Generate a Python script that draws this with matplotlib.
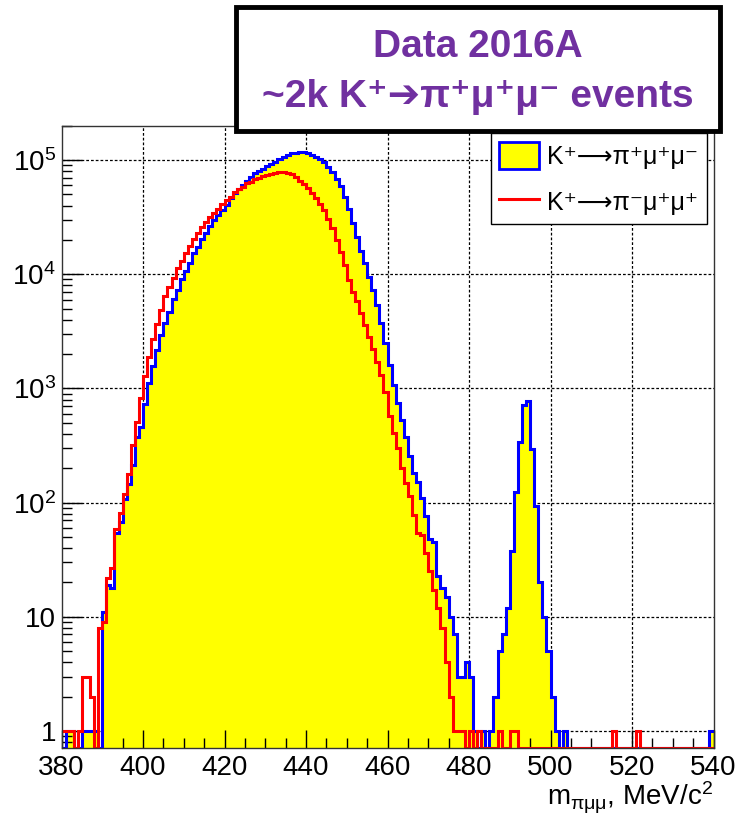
import numpy as np
import matplotlib
matplotlib.use('Agg')
import matplotlib.pyplot as plt
from matplotlib.patches import Rectangle, Patch
from matplotlib.lines import Line2D
from matplotlib.ticker import FixedLocator, MultipleLocator, LogLocator, NullFormatter

plt.rcParams['font.family'] = ['Liberation Sans', 'DejaVu Sans']
plt.rcParams['mathtext.fontset'] = 'custom'
plt.rcParams['mathtext.rm'] = 'Liberation Sans'
plt.rcParams['mathtext.it'] = 'Liberation Sans:italic'
plt.rcParams['mathtext.bf'] = 'Liberation Sans:bold'

# ---------------- data (1 MeV bins from 380 to 540) ----------------
x_low, x_high, bin_width = 380, 540, 1

# K+ -> pi+ mu+ mu-  (filled histogram)
counts_pipmumu = [
    0, 1, 1, 0, 0, 1, 1, 1, 1, 0,                                   # 380-389
    11, 19, 18, 54, 68, 108, 146, 212, 375, 464,                    # 390-399
    733, 1113, 1577, 2176, 2940, 3770, 4650, 6040, 7240, 9040,      # 400-409
    10700, 12560, 15280, 17230, 20250, 22840, 26480, 29870, 33000, 36500,   # 410-419
    40360, 46200, 51100, 55500, 60500, 65900, 71400, 76500, 80000, 84000,   # 420-429
    88000, 92000, 96600, 102000, 107000, 111200, 114500, 115000, 116700, 116700,  # 430-439
    115100, 111300, 106900, 102000, 96100, 87400, 79000, 67700, 59200, 47800,     # 440-449
    37000, 27900, 21300, 16000, 12500, 9400, 7260, 5380, 3720, 2490,  # 450-459
    1600, 1080, 743, 531, 375, 257, 183, 153, 110, 76,               # 460-469
    48, 45, 23, 18, 15, 10, 7, 3, 3, 4,                               # 470-479
    3, 1, 0, 1, 0, 1, 2, 5, 7, 12,                                    # 480-489
    38, 125, 343, 719, 769, 294, 93, 20, 10, 5,                       # 490-499
    2, 1, 0, 1, 0, 0, 0, 0, 0, 0,                                     # 500-509
    0, 0, 0, 0, 0, 0, 0, 0, 0, 0,                                     # 510-519
    0, 0, 0, 0, 0, 0, 0, 0, 0, 0,                                     # 520-529
    0, 0, 0, 0, 0, 0, 0, 0, 0, 1,                                     # 530-539
]

# K+ -> pi- mu+ mu+  (line histogram)
counts_pimmupmup = [
    1, 1, 1, 0, 1, 3, 3, 2, 0, 8,                                     # 380-389
    9, 22, 27, 59, 81, 119, 179, 321, 507, 823,                       # 390-399
    1290, 1900, 2720, 3650, 4870, 6460, 7800, 9340, 11270, 13060,     # 400-409
    15460, 17690, 20250, 22840, 25780, 28860, 31500, 34600, 37000, 40960,   # 410-419
    44700, 47800, 52100, 55500, 58400, 62500, 64600, 67800, 70000, 72500,   # 420-429
    74500, 76000, 77500, 78000, 78000, 77000, 75000, 70500, 65900, 61700,   # 430-439
    56500, 51100, 46200, 41200, 36500, 30300, 25200, 19950, 15800, 12060,   # 440-449
    8910, 7050, 5800, 4600, 3600, 2800, 2200, 1700, 1300, 940,        # 450-459
    568, 411, 300, 201, 149, 115, 78, 54, 52, 36,                     # 460-469
    25, 17, 12, 8, 4, 2, 1, 1, 1, 0,                                  # 470-479
    1, 0, 1, 0, 0, 0, 0, 1, 0, 0,                                     # 480-489
    1, 1, 0, 0, 0, 0, 0, 0, 0, 0,                                     # 490-499
    0, 0, 0, 0, 0, 0, 0, 0, 0, 0,                                     # 500-509
    0, 0, 0, 0, 0, 1, 0, 0, 0, 0,                                     # 510-519
    0, 1, 0, 0, 0, 0, 0, 0, 0, 0,                                     # 520-529
    0, 0, 0, 0, 0, 0, 0, 0, 0, 0,                                     # 530-539
]

label_signal = 'K\u207a\u27f6\u03c0\u207a\u03bc\u207a\u03bc\u207b'
label_lnv = 'K\u207a\u27f6\u03c0\u207b\u03bc\u207a\u03bc\u207a'
title_line1 = 'Data 2016A'
title_line2 = '~2k K\u207a\u2794\u03c0\u207a\u03bc\u207a\u03bc\u207b events'
x_label = r'm$_{\mathrm{\pi\mu\mu}}$, MeV/c$^{2}$'

x_ticks = [380, 400, 420, 440, 460, 480, 500, 520, 540]
y_ticks = [1, 10, 100, 1000, 10000, 100000]
y_ticklabels = ['1', '10', r'$10^{2}$', r'$10^{3}$', r'$10^{4}$', r'$10^{5}$']

y_min, y_max = 0.714, 2.0e5

# ---------------- plotting ----------------
W, H = 740, 817
fig = plt.figure(figsize=(W / 100, H / 100), dpi=100)
ax_l, ax_r, ax_t, ax_b = 61.5, 713.5, 125.7, 747.7
ax = fig.add_axes([ax_l / W, 1 - ax_b / H, (ax_r - ax_l) / W, (ax_b - ax_t) / H])

edges = np.arange(x_low, x_high + bin_width, bin_width)
sig = np.array(counts_pipmumu, dtype=float)
lnv = np.array(counts_pimmupmup, dtype=float)
sig_draw = np.where(sig > 0, sig, y_min)
lnv_draw = np.where(lnv > 0, lnv, y_min)

ax.set_yscale('log')
ax.set_xlim(x_low, x_high)
ax.set_ylim(y_min, y_max)

# grid (below the histograms)
grid_style = dict(color='black', linestyle=(0, (2.2, 1.6)), linewidth=0.9, zorder=0.8)
for xv in x_ticks[1:-1]:
    ax.axvline(xv, **grid_style)
for yv in y_ticks:
    ax.axhline(yv, **grid_style)

ax.stairs(sig_draw, edges, fill=True, baseline=y_min, facecolor='#ffff00',
          edgecolor='none', zorder=1.5)
ax.stairs(sig_draw, edges, baseline=None, color='#0000ff', linewidth=2.2, zorder=1.7)
ax.stairs(lnv_draw, edges, baseline=None, color='#ff0000', linewidth=2.2, zorder=1.9)

# ticks
ax.xaxis.set_major_locator(FixedLocator(x_ticks))
ax.xaxis.set_minor_locator(MultipleLocator(5))
ax.yaxis.set_major_locator(FixedLocator(y_ticks))
ax.yaxis.set_minor_locator(LogLocator(base=10, subs=np.arange(2, 10)))
ax.yaxis.set_minor_formatter(NullFormatter())
ax.set_xticklabels([str(v) for v in x_ticks])
ax.set_yticklabels(y_ticklabels)
ax.tick_params(axis='x', which='major', direction='in', length=13, width=1.0,
               labelsize=20, pad=5, top=False)
ax.tick_params(axis='x', which='minor', direction='in', length=7, width=1.0, top=False)
ax.tick_params(axis='y', which='major', direction='in', length=14.5, width=1.0,
               labelsize=20, pad=4, right=False)
ax.tick_params(axis='y', which='minor', direction='in', length=7.5, width=1.0, right=False)
for sp in ax.spines.values():
    sp.set_linewidth(1.0)
    sp.set_color('#333333')
    sp.set_zorder(3)

# legend
handles = [Patch(facecolor='#ffff00', edgecolor='#0000ff', linewidth=2.0),
           Line2D([], [], color='#ff0000', linewidth=2.2)]
leg = ax.legend(handles, [label_signal, label_lnv], loc='upper right',
                bbox_to_anchor=(706.7 / W, 1 - 133.3 / H), bbox_transform=fig.transFigure,
                fontsize=18, frameon=True, fancybox=False, edgecolor='black',
                framealpha=1, borderaxespad=0, handlelength=1.6, handleheight=1.3,
                handletextpad=0.3, labelspacing=0.75, borderpad=0.35)
leg.get_frame().set_linewidth(1.0)
leg.set_zorder(6)

# title box
rect = Rectangle((236 / W, 1 - 130.7 / H), (720 - 236) / W, (130.7 - 7.3) / H,
                 transform=fig.transFigure, facecolor='white', edgecolor='black',
                 linewidth=3.5, zorder=10)
fig.add_artist(rect)
fig.text(478 / W, 1 - 47 / H, title_line1, ha='center', va='center', fontsize=28,
         fontweight='bold', color='#7030a0', zorder=11)
fig.text(478 / W, 1 - 97 / H, title_line2, ha='center', va='center', fontsize=28,
         fontweight='bold', color='#7030a0', zorder=11)

# x label
fig.text(713 / W, 1 - 798 / H, x_label, ha='right', va='center', fontsize=20)

fig.savefig('out.png', dpi=100)
